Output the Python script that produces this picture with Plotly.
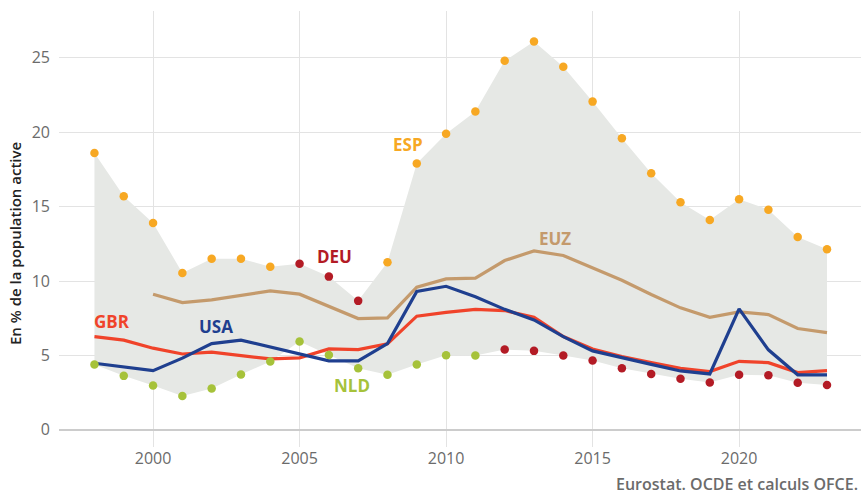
import plotly.graph_objects as go

years = list(range(1998, 2024))

# Max of euro-area countries shown (value, country)
max_vals = [18.6, 15.7, 13.9, 10.55, 11.5, 11.5, 10.97, 11.17, 10.3, 8.67, 11.27, 17.9, 19.9,
            21.4, 24.8, 26.1, 24.4, 22.06, 19.6, 17.25, 15.3, 14.1, 15.5, 14.8, 12.97, 12.14]
max_cty = ["ESP"] * 7 + ["DEU"] * 3 + ["ESP"] * 16

# Min of euro-area countries shown (value, country)
min_vals = [4.4, 3.63, 2.98, 2.28, 2.78, 3.72, 4.6, 5.94, 5.04, 4.14, 3.7, 4.39, 5.02,
            5.0, 5.4, 5.31, 5.0, 4.66, 4.14, 3.76, 3.43, 3.18, 3.7, 3.67, 3.16, 3.02]
min_cty = ["NLD"] * 14 + ["DEU"] * 12

euz_years = list(range(2000, 2024))
euz = [9.12, 8.56, 8.74, 9.03, 9.34, 9.12, 8.31, 7.48, 7.53, 9.59, 10.15, 10.2, 11.38,
       12.03, 11.72, 10.9, 10.06, 9.1, 8.2, 7.57, 7.93, 7.75, 6.81, 6.54]

gbr = [6.27, 6.03, 5.49, 5.1, 5.22, 5.02, 4.77, 4.84, 5.44, 5.4, 5.78, 7.64, 7.9,
       8.1, 8.02, 7.57, 6.27, 5.44, 4.93, 4.52, 4.14, 3.92, 4.61, 4.52, 3.85, 3.98]

usa = [4.48, 4.23, 3.98, 4.82, 5.8, 6.03, 5.58, 5.1, 4.64, 4.64, 5.8, 9.3, 9.65,
       8.95, 8.1, 7.39, 6.27, 5.31, 4.88, 4.4, 3.96, 3.76, 8.13, 5.38, 3.7, 3.7]

colors = {
    "ESP": "#F7A823",
    "DEU": "#B31B25",
    "NLD": "#A6C23A",
    "GBR": "#F0432A",
    "USA": "#1F3F8F",
    "EUZ": "#C49A6C",
}

labels = [
    ("ESP", 2008.7, 19.15),
    ("DEU", 2006.2, 11.63),
    ("GBR", 1998.6, 7.26),
    ("USA", 2002.15, 6.92),
    ("NLD", 2006.8, 2.96),
    ("EUZ", 2013.7, 12.84),
]

fig = go.Figure()

# Band
fig.add_trace(go.Scatter(x=years, y=min_vals, mode="lines", line=dict(width=0),
                         hoverinfo="skip", showlegend=False))
fig.add_trace(go.Scatter(x=years, y=max_vals, mode="lines", line=dict(width=0),
                         fill="tonexty", fillcolor="#E6E8E5", hoverinfo="skip", showlegend=False))

# Lines
fig.add_trace(go.Scatter(x=euz_years, y=euz, mode="lines", line=dict(color=colors["EUZ"], width=3.2),
                         showlegend=False))
fig.add_trace(go.Scatter(x=years, y=gbr, mode="lines", line=dict(color=colors["GBR"], width=3.2),
                         showlegend=False))
fig.add_trace(go.Scatter(x=years, y=usa, mode="lines", line=dict(color=colors["USA"], width=3.2),
                         showlegend=False))

# Dots
fig.add_trace(go.Scatter(x=years, y=max_vals, mode="markers",
                         marker=dict(size=8.5, color=[colors[c] for c in max_cty]),
                         showlegend=False))
fig.add_trace(go.Scatter(x=years, y=min_vals, mode="markers",
                         marker=dict(size=8.5, color=[colors[c] for c in min_cty]),
                         showlegend=False))

for name, lx, ly in labels:
    fig.add_annotation(x=lx, y=ly, text=name, showarrow=False,
                       font=dict(family="Open Sans", size=17, weight=700, color=colors[name]))

# Source
fig.add_annotation(x=1, y=0, xref="paper", yref="paper", xanchor="right", yanchor="middle",
                   yshift=-37, xshift=-1, text="Eurostat. OCDE et calculs OFCE.", showarrow=False,
                   font=dict(family="Open Sans", size=16, weight=600, color="#6B6B6B"))

# Y axis title
fig.add_annotation(x=0, y=0.4656, xref="paper", yref="paper", xanchor="center", yanchor="middle",
                   xshift=-44, textangle=-90, text="En % de la population active", showarrow=False,
                   font=dict(family="Open Sans", size=15, weight=600, color="#222222"))

fig.update_layout(
    width=861, height=494,
    margin=dict(l=59, r=0, t=11, b=47),
    paper_bgcolor="white", plot_bgcolor="white",
    font=dict(family="Open Sans", color="#666666"),
    showlegend=False,
)
fig.update_xaxes(range=[1996.79, 2024.16], tickvals=[2000, 2005, 2010, 2015, 2020],
                 showgrid=True, gridcolor="#E3E3E3", gridwidth=1, zeroline=False,
                 showline=False, ticks="", tickfont=dict(size=16, color="#6B6B6B"),
                 automargin=False)
fig.update_yaxes(range=[-1.15, 28.15], tickvals=[0, 5, 10, 15, 20, 25],
                 showgrid=True, gridcolor="#E3E3E3", gridwidth=1,
                 zeroline=True, zerolinecolor="#CCCCCC", zerolinewidth=2,
                 showline=False, ticks="", ticklabelstandoff=8,
                 tickfont=dict(size=16, color="#6B6B6B"), automargin=False)

fig.write_html("out.html", config={"displayModeBar": False},
               post_script="document.body.style.margin='0';document.body.style.padding='0';document.body.style.overflow='hidden';")
